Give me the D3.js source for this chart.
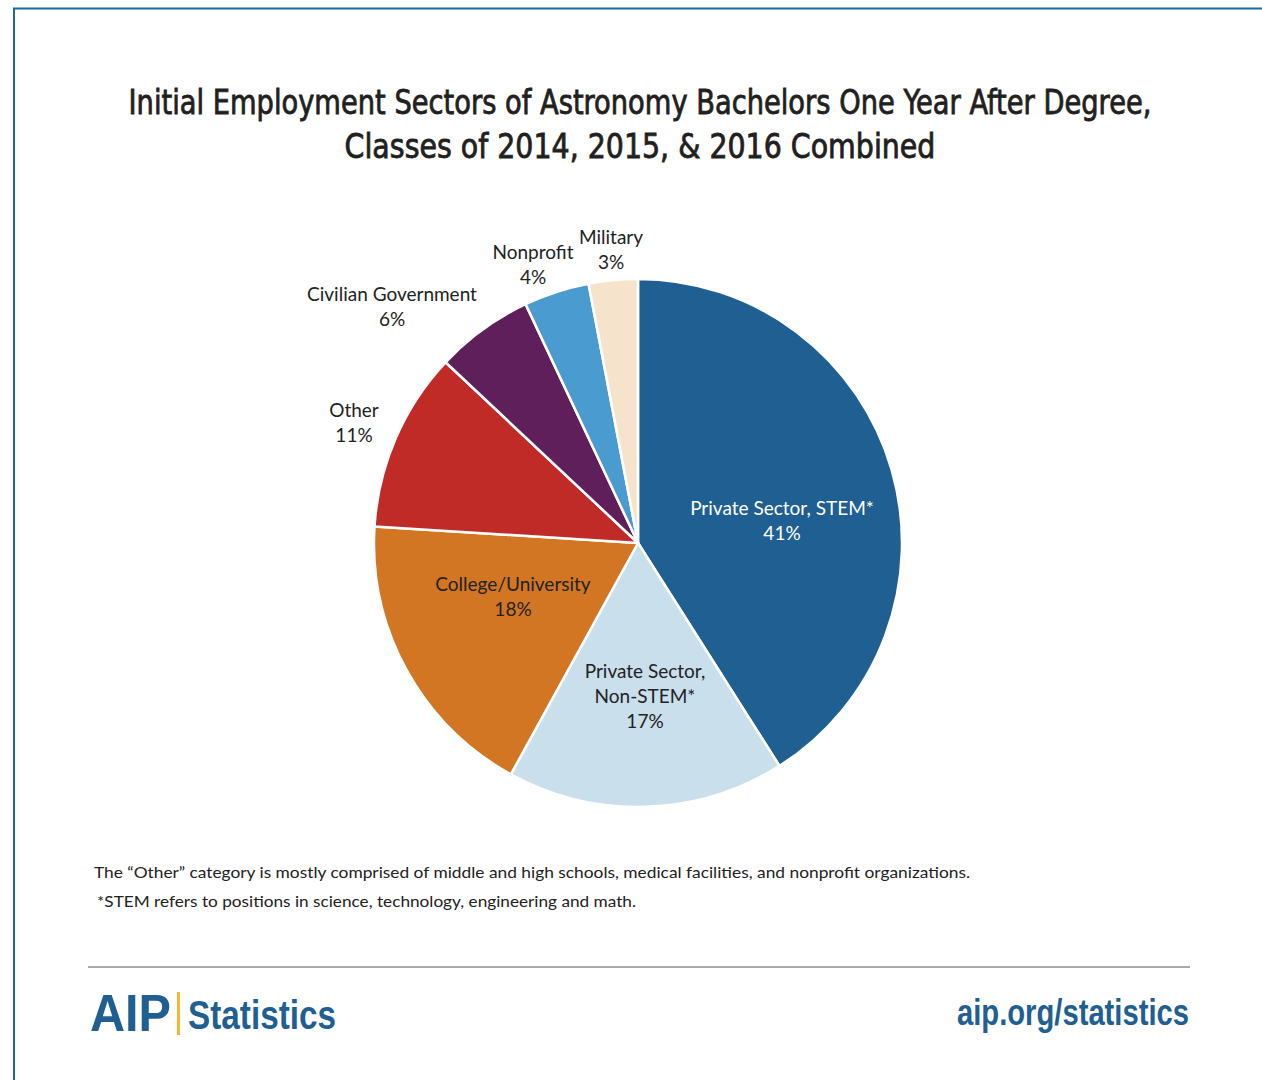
<!DOCTYPE html>
<html>
<head>
<meta charset="utf-8">
<script src="https://cdn.jsdelivr.net/npm/d3@7"></script>
<style>
  html, body { margin: 0; padding: 0; background: #ffffff; }
  svg { display: block; }
</style>
</head>
<body>
<script>
// ---- data ----
const categories = ["Private Sector, STEM*", "Private Sector, Non-STEM*", "College/University", "Other", "Civilian Government", "Nonprofit", "Military"];
const values = [41, 17, 18, 11, 6, 4, 3];
const labelLines = [
  ["Private Sector, STEM*", "41%"],
  ["Private Sector,", "Non-STEM*", "17%"],
  ["College/University", "18%"],
  ["Other", "11%"],
  ["Civilian Government", "6%"],
  ["Nonprofit", "4%"],
  ["Military", "3%"]
];
const colors = ["#1f5f91", "#c9dfeb", "#d27623", "#c02b27", "#5e1f5a", "#4a9bd0", "#f5e3cc"];
const titleLines = ["Initial Employment Sectors of Astronomy Bachelors One Year After Degree,", "Classes of 2014, 2015, & 2016 Combined"];
const notes = ["The \u201cOther\u201d category is mostly comprised of middle and high schools, medical facilities, and nonprofit organizations.", "*STEM refers to positions in science, technology, engineering and math."];

// ---- layout (not data) ----
const W = 1262, H = 1080;
const cx = 638, cy = 543, R = 264;
// label anchor offsets from pie centre (x, y of first-line baseline)
const labelPos = [[144, -28], [7, 135], [-125, 48], [-284, -126], [-246, -242], [-105, -284], [-27, -299]];
const labelColor = ["#ffffff", "#222", "#222", "#222", "#222", "#222", "#222"];

const svg = d3.select("body").append("svg").attr("width", W).attr("height", H);

// frame
svg.append("line").attr("x1", 13).attr("x2", 1262).attr("y1", 8.5).attr("y2", 8.5)
  .attr("stroke", "#1c6aa0").attr("stroke-width", 2);
svg.append("line").attr("x1", 14).attr("x2", 14).attr("y1", 8).attr("y2", H)
  .attr("stroke", "#1c6aa0").attr("stroke-width", 2);

// title (condensed horizontally by a scale transform to the reference widths)
const titleY = [114, 158];
const titleW = [1023, 591];
titleLines.forEach((t, i) => {
  const tg = svg.append("g");
  const tx = tg.append("text").attr("text-anchor", "middle")
    .attr("x", 0).attr("y", 0)
    .attr("font-family", "'Liberation Sans Narrow', 'Arial Narrow', 'DejaVu Sans Condensed', sans-serif")
    .attr("font-size", 34).attr("fill", "#231f20")
    .attr("stroke", "#231f20").attr("stroke-width", 0.8)
    .text(t);
  const natural = tx.node().getComputedTextLength();
  const sx = titleW[i] / natural;
  tg.attr("transform", `translate(640,${titleY[i]}) scale(${sx},1)`);
});

// pie
const pie = d3.pie().sort(null).value(d => d)
  .startAngle(0).endAngle(2 * Math.PI);
const arc = d3.arc().innerRadius(0).outerRadius(R);
const g = svg.append("g").attr("transform", `translate(${cx},${cy})`);
g.selectAll("path").data(pie(values)).join("path")
  .attr("d", arc)
  .attr("fill", (d, i) => colors[i])
  .attr("stroke", "#ffffff").attr("stroke-width", 2.5).attr("stroke-linejoin", "round");

// labels
const lab = g.selectAll("text.lab").data(labelLines).join("text")
  .attr("class", "lab")
  .attr("text-anchor", "middle")
  .attr("font-family", "Lato, 'Open Sans', sans-serif")
  .attr("font-size", 19)
  .attr("fill", (d, i) => labelColor[i]);
lab.each(function (lines, i) {
  const t = d3.select(this);
  lines.forEach((l, j) => {
    t.append("tspan").attr("x", labelPos[i][0]).attr("y", labelPos[i][1] + j * 25).text(l);
  });
});

// notes
const noteY = [878, 907];
const noteX = [94, 97];
const noteW = [876, 539];
notes.forEach((n, i) => {
  svg.append("text").attr("x", noteX[i]).attr("y", noteY[i])
    .attr("font-family", "Lato, 'Open Sans', sans-serif")
    .attr("font-size", 16).attr("fill", "#222")
    .attr("textLength", noteW[i]).attr("lengthAdjust", "spacingAndGlyphs")
    .text(n);
});

// footer rule
svg.append("line").attr("x1", 88).attr("x2", 1190).attr("y1", 967).attr("y2", 967)
  .attr("stroke", "#8c8c8c").attr("stroke-width", 1.5);

// AIP logo
svg.append("text").attr("x", 90).attr("y", 1031)
  .attr("font-family", "'Liberation Sans', Arial, sans-serif")
  .attr("font-size", 52).attr("fill", "#1f5f91").attr("font-weight", "bold")
  .attr("textLength", 81).attr("lengthAdjust", "spacingAndGlyphs")
  .text("AIP");
svg.append("rect").attr("x", 177).attr("y", 992).attr("width", 3).attr("height", 43).attr("fill", "#f2b630");
svg.append("text").attr("x", 188).attr("y", 1029)
  .attr("font-family", "'Liberation Sans Narrow', 'Arial Narrow', sans-serif")
  .attr("font-size", 41).attr("fill", "#1f5f91").attr("font-weight", "bold")
  .attr("textLength", 148).attr("lengthAdjust", "spacingAndGlyphs")
  .text("Statistics");
svg.append("text").attr("x", 1189).attr("y", 1025).attr("text-anchor", "end")
  .attr("font-family", "'Liberation Sans Narrow', 'Arial Narrow', sans-serif")
  .attr("font-size", 37).attr("fill", "#1f5f91").attr("font-weight", "bold")
  .attr("textLength", 232).attr("lengthAdjust", "spacingAndGlyphs")
  .text("aip.org/statistics");
</script>
</body>
</html>
